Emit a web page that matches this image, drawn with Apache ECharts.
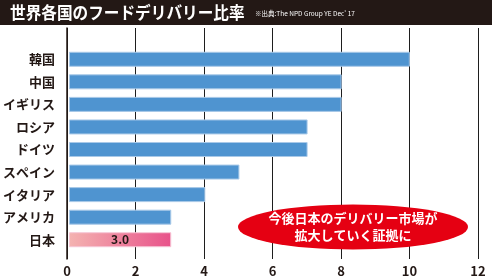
<!DOCTYPE html>
<html lang="ja">
<head>
    <meta charset="UTF-8">
    <title>世界各国のフードデリバリー比率</title>
    <script src="https://cdn.jsdelivr.net/npm/echarts@6/dist/echarts.min.js"></script>
    <style type="text/css">
        *{margin: 0;padding: 0;border: none}
        html,body{width: 100%;height: 100%;overflow: hidden;background: #fff}
        #main{width: 492px;height: 278px}
    </style>
</head>
<body>
<div id="main"></div>
<script type="text/javascript">
    // データ
    var countries = ['韓国', '中国', 'イギリス', 'ロシア', 'ドイツ', 'スペイン', 'イタリア', 'アメリカ', '日本'];
    var ratios = [10, 8, 8, 7, 7, 5, 4, 3, 3.0];
    var xTicks = [0, 2, 4, 6, 8, 10, 12];

    var font = '"Noto Sans CJK JP", "Noto Sans", sans-serif';
    var myChart = echarts.init(document.getElementById('main'));

    var barData = ratios.map(function (v, i) {
        if (countries[i] === '日本') {
            return {
                value: v,
                itemStyle: {
                    color: new echarts.graphic.LinearGradient(0, 0, 1, 0, [
                        {offset: 0, color: '#f4b3b1'},
                        {offset: 1, color: '#e8528a'}
                    ]),
                    borderColor: '#f7c6d6'
                },
                label: {
                    show: true,
                    position: 'inside',
                    formatter: function (p) { return p.value.toFixed(1); },
                    color: '#231815',
                    fontSize: 12,
                    fontWeight: 'bold',
                    fontFamily: font
                }
            };
        }
        return v;
    });

    var option = {
        animation: false,
        graphic: [
            {type: 'rect', z: -1, shape: {x: 0, y: 0, width: 492, height: 25}, style: {fill: '#231815'}},
            {
                // タイトル（少し横を詰める）
                type: 'text', z: 10, x: 10, y: 13, scaleX: 0.92,
                style: {
                    text: '世界各国のフードデリバリー比率',
                    fill: '#fff', font: 'bold 17px ' + font, verticalAlign: 'middle'
                }
            },
            {
                type: 'text', z: 10, x: 255, y: 14,
                style: {
                    text: '※出典:The NPD Group YE Dec\' 17',
                    fill: '#fff', font: '6.5px ' + font, verticalAlign: 'middle'
                }
            },
            {
                type: 'circle', z: 100, x: 353, y: 227, scaleX: 115 / 22.5,
                shape: {cx: 0, cy: 0, r: 22.5}, style: {fill: '#e50012'}
            },
            {
                type: 'text', z: 101, x: 353, y: 227,
                style: {
                    text: '今後日本のデリバリー市場が\n拡大していく証拠に',
                    fill: '#fff', font: 'bold 13px ' + font,
                    align: 'center', verticalAlign: 'middle', lineHeight: 17
                }
            }
        ],
        grid: [
            {left: 67, right: 14, top: 28, bottom: 18},
            {left: 67, right: 14, top: 48, bottom: 27}
        ],
        xAxis: [
            {
                gridIndex: 0, type: 'value', min: 0, max: 12, interval: 2,
                axisLine: {show: false}, axisTick: {show: false},
                axisLabel: {color: '#231815', fontSize: 13, fontWeight: 'bold', fontFamily: font, margin: 6},
                splitLine: {lineStyle: {color: '#1e1e1e', width: 1}}
            },
            {
                gridIndex: 1, type: 'value', min: 0, max: 12,
                show: false
            }
        ],
        yAxis: [
            {
                gridIndex: 0, type: 'value', min: 0, max: 1,
                axisLine: {show: true, lineStyle: {color: '#231815', width: 1.5}},
                axisTick: {show: false}, axisLabel: {show: false}, splitLine: {show: false}
            },
            {
                gridIndex: 1, type: 'category', inverse: true, data: countries,
                axisLine: {show: false}, axisTick: {show: false},
                axisLabel: {color: '#231815', fontSize: 13, fontWeight: 'bold', fontFamily: font, margin: 14}
            }
        ],
        series: [
            {
                type: 'bar',
                xAxisIndex: 1,
                yAxisIndex: 1,
                data: barData,
                barWidth: 15,
                itemStyle: {color: '#4f94d0', borderColor: '#a9c9e8', borderWidth: 1},
                z: 3
            }
        ]
    };
    myChart.setOption(option);
</script>
</body>
</html>
